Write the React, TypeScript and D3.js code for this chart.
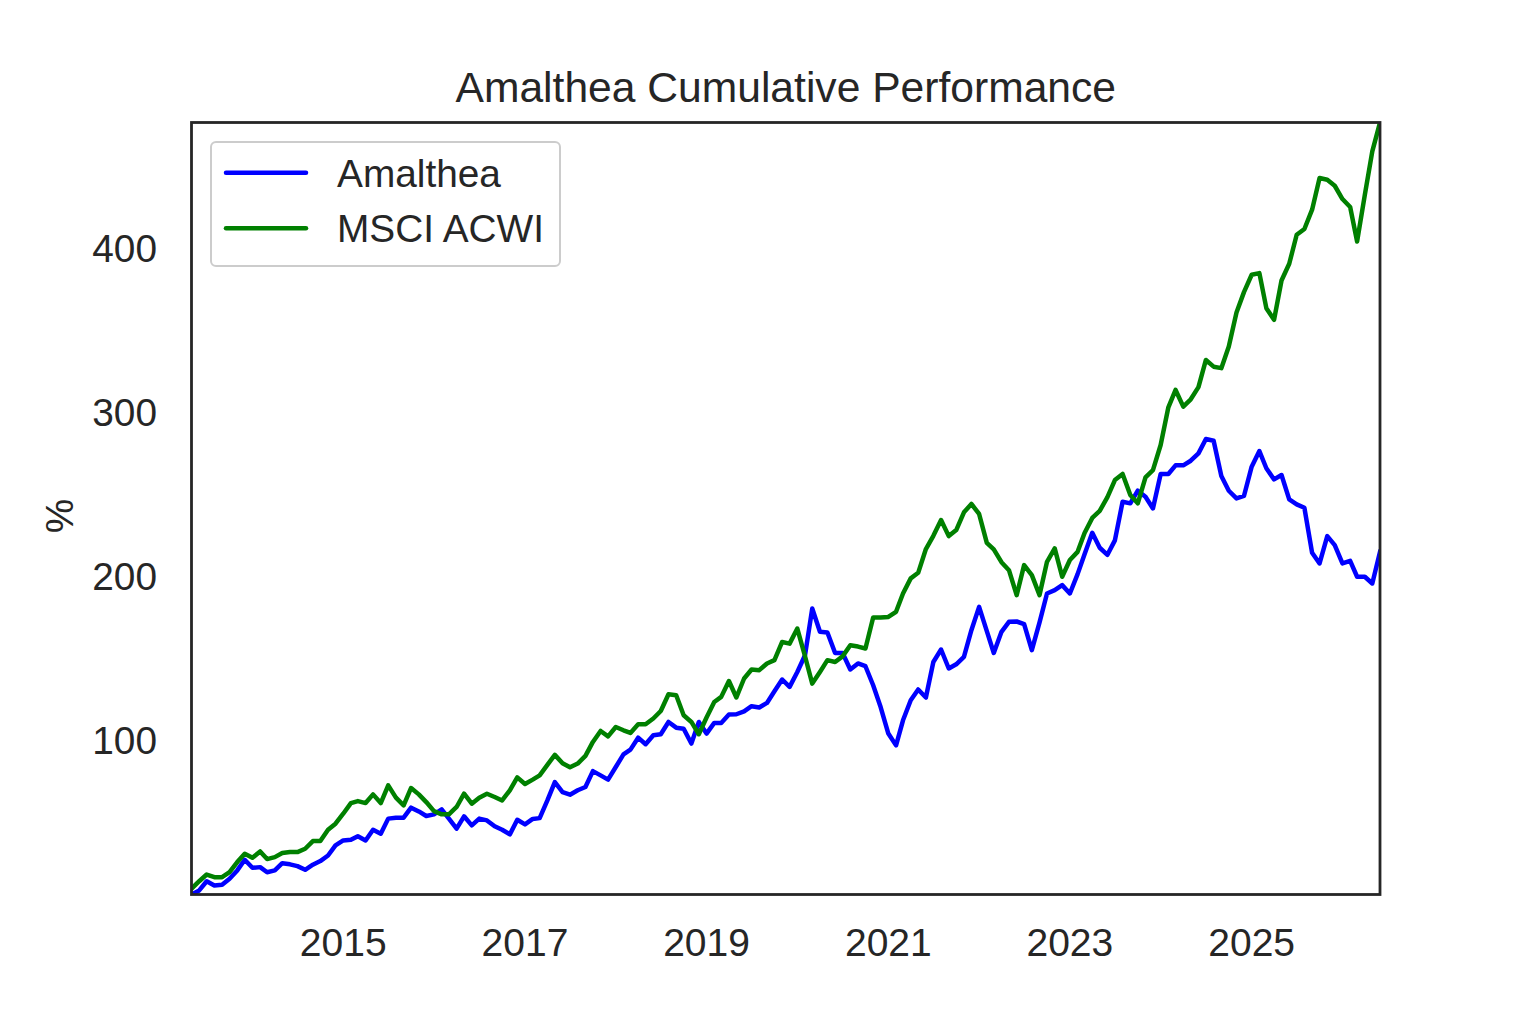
import React from 'react';
import * as d3 from 'd3';

const startYear = 2013;
const startMonth = 4; // May (0-based)

const amalthea = [
  5.9, 8.4, 14.0, 11.4, 11.8, 15.5, 20.6, 27.1, 22.2, 22.6,
  19.5, 20.6, 25.0, 24.3, 23.2, 21.0, 24.1, 26.3, 29.7, 35.9,
  38.9, 39.3, 41.5, 38.9, 45.4, 43.0, 52.2, 52.8, 52.8, 58.9,
  56.6, 53.8, 54.8, 57.8, 52.2, 46.1, 53.6, 48.1, 52.2, 51.1,
  47.5, 45.4, 42.6, 51.5, 48.7, 52.0, 52.5, 63.3, 74.5, 68.4,
  66.8, 69.5, 71.5, 81.2, 78.6, 76.0, 83.7, 91.4, 94.3, 101.6,
  97.6, 103.1, 103.7, 111.2, 107.7, 107.1, 98.0, 111.2, 104.1, 110.6,
  110.6, 115.7, 115.9, 117.7, 120.8, 120.0, 122.8, 129.9, 137.1, 132.6,
  141.7, 151.9, 180.4, 166.2, 165.8, 153.3, 153.3, 143.2, 146.9, 145.2,
  133.6, 120.3, 104.1, 96.9, 112.2, 124.4, 131.0, 126.1, 147.8, 155.4,
  143.8, 146.4, 150.9, 167.2, 181.4, 166.6, 153.3, 166.2, 172.3, 172.5,
  170.9, 155.0, 172.0, 189.6, 191.6, 194.7, 189.6, 201.4, 213.6, 226.6,
  217.5, 213.2, 222.0, 245.6, 244.6, 252.3, 248.6, 241.5, 262.5, 262.5,
  267.8, 267.8, 270.6, 275.1, 283.9, 282.8, 261.3, 252.3, 247.6, 249.1,
  267.0, 276.5, 266.0, 259.2, 261.9, 247.0, 244.0, 241.9, 214.4, 207.9,
  224.6, 219.1, 207.9, 209.5, 199.8, 199.8, 195.7, 215.0,
];

const msciAcwi = [
  9.4, 14.0, 18.1, 16.5, 16.5, 19.5, 25.7, 30.8, 28.3, 32.2,
  27.5, 28.7, 31.2, 31.8, 31.8, 33.8, 38.5, 38.5, 45.4, 49.1,
  55.2, 61.7, 62.9, 61.7, 67.0, 61.7, 72.5, 65.0, 60.3, 70.9,
  67.0, 62.3, 56.8, 54.8, 54.8, 59.3, 67.4, 61.3, 65.0, 67.4,
  65.4, 63.3, 69.5, 77.4, 73.3, 76.0, 78.6, 85.0, 91.1, 86.0,
  83.5, 85.8, 90.5, 99.0, 105.7, 102.4, 108.1, 106.1, 104.5, 109.8,
  109.8, 113.3, 117.9, 128.1, 127.5, 115.3, 111.2, 103.7, 113.9, 123.4,
  126.5, 136.2, 126.1, 137.7, 143.2, 142.8, 146.9, 148.9, 160.0, 159.0,
  168.2, 151.3, 134.6, 141.7, 148.9, 147.8, 151.2, 158.0, 157.2, 156.0,
  174.9, 174.9, 175.3, 178.4, 189.6, 198.8, 202.2, 216.7, 224.8, 234.4,
  224.6, 228.3, 239.1, 244.2, 238.1, 220.5, 216.5, 208.7, 203.8, 188.6,
  206.9, 200.8, 188.6, 208.9, 217.1, 199.8, 210.0, 215.0, 226.5, 235.7,
  240.0, 248.4, 258.8, 262.5, 249.7, 244.6, 260.5, 264.9, 280.2, 303.2,
  313.8, 303.6, 308.1, 315.5, 332.1, 328.0, 327.1, 340.3, 361.0, 373.5,
  384.1, 385.1, 363.7, 356.6, 380.6, 390.8, 408.5, 412.0, 423.8, 443.1,
  442.1, 438.4, 430.3, 425.4, 404.4, 432.9, 459.4, 477.0,
];

const xTickYears = [2015, 2017, 2019, 2021, 2023, 2025];
const yTicks = [100, 200, 300, 400];
const seriesNames = ['Amalthea', 'MSCI ACWI'];
const seriesColors = ['#0000ff', '#008000'];
const titleText = 'Amalthea Cumulative Performance';
const yLabelText = '%';

const FONT = '"Liberation Sans", Arial, Helvetica, sans-serif';
const TEXT = '#262626';

export default function App() {
  const W = 1533;
  const H = 1022;
  const left = 191.5;
  const right = 1380;
  const top = 122.5;
  const bottom = 894.5;

  const dates = amalthea.map((_, i) => new Date(startYear, startMonth + i, 1));
  const x = d3
    .scaleTime()
    .domain(d3.extent(dates) as [Date, Date])
    .range([left, right]);
  const all = amalthea.concat(msciAcwi);
  const y = d3
    .scaleLinear()
    .domain(d3.extent(all) as [number, number])
    .range([bottom, top]);

  const line = d3
    .line<number>()
    .x((_, i) => x(dates[i]))
    .y((d) => y(d));

  const series = [amalthea, msciAcwi];

  return (
    <svg
      width={W}
      height={H}
      style={{ position: 'absolute', left: 0, top: 0, background: '#ffffff' }}
      fontFamily={FONT}
    >
      <rect x={0} y={0} width={W} height={H} fill="#ffffff" />
      <defs>
        <clipPath id="plotclip">
          <rect x={left} y={top} width={right - left} height={bottom - top} />
        </clipPath>
      </defs>

      <text x={(left + right) / 2} y={101.5} textAnchor="middle" fontSize={42.6} fill={TEXT}>
        {titleText}
      </text>

      <g clipPath="url(#plotclip)">
        {series.map((s, k) => (
          <path
            key={k}
            d={line(s) || ''}
            fill="none"
            stroke={seriesColors[k]}
            strokeWidth={4.5}
            strokeLinejoin="round"
            strokeLinecap="square"
          />
        ))}
      </g>

      {/* spines */}
      <rect
        x={left}
        y={top}
        width={right - left}
        height={bottom - top}
        fill="none"
        stroke={TEXT}
        strokeWidth={2.8}
      />

      {/* y tick labels */}
      {yTicks.map((t) => (
        <text key={t} x={157} y={y(t) + 13.5} textAnchor="end" fontSize={38.8} fill={TEXT}>
          {t}
        </text>
      ))}

      {/* x tick labels */}
      {xTickYears.map((yr) => (
        <text
          key={yr}
          x={x(new Date(yr, 0, 1))}
          y={956}
          textAnchor="middle"
          fontSize={39}
          fill={TEXT}
        >
          {yr}
        </text>
      ))}

      {/* y label */}
      <text
        transform={`translate(72.5,516) rotate(-90)`}
        textAnchor="middle"
        fontSize={38.8}
        fill={TEXT}
      >
        {yLabelText}
      </text>

      {/* legend */}
      <g>
        <rect
          x={211}
          y={142}
          width={349}
          height={124}
          rx={5}
          ry={5}
          fill="#ffffff"
          fillOpacity={0.8}
          stroke="#cccccc"
          strokeWidth={2}
        />
        {seriesNames.map((name, k) => (
          <g key={name}>
            <line
              x1={226}
              x2={306}
              y1={172.7 + k * 55.6}
              y2={172.7 + k * 55.6}
              stroke={seriesColors[k]}
              strokeWidth={4.5}
              strokeLinecap="round"
            />
            <text x={337} y={186.5 + k * 55.6} fontSize={38.8} fill={TEXT}>
              {name}
            </text>
          </g>
        ))}
      </g>
    </svg>
  );
}
